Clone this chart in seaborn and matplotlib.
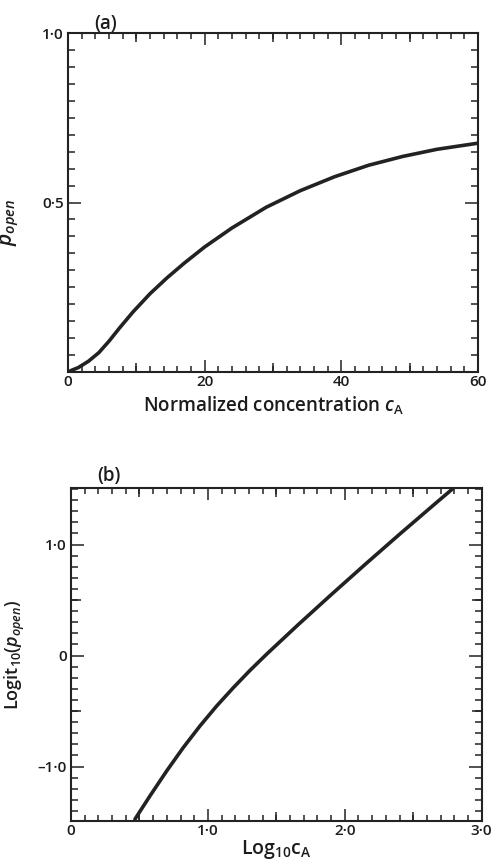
import numpy as np
import pandas as pd
import matplotlib
matplotlib.use("Agg")
import matplotlib.pyplot as plt
from matplotlib.ticker import MultipleLocator, FixedLocator, FuncFormatter
import seaborn as sns

# ---- data ----
conc_a = [0, 0.5, 1.5, 3, 4.5, 6, 7.5, 9.5, 12, 14.5, 17, 20, 24, 29, 34, 39, 44, 49, 54, 60]
popen_a = [0, 0.005, 0.013, 0.032, 0.057, 0.091, 0.129, 0.177, 0.231, 0.278, 0.321,
           0.369, 0.425, 0.486, 0.535, 0.576, 0.610, 0.636, 0.657, 0.675]

logc_b = [0.467, 0.577, 0.699, 0.82, 0.942, 1.064, 1.186, 1.307, 1.43, 1.66,
          1.9, 2.15, 2.4, 2.65, 2.79]
logit_b = [-1.474, -1.264, -1.039, -0.829, -0.634, -0.454, -0.289, -0.134, 0.014, 0.279,
           0.548, 0.823, 1.093, 1.358, 1.505]

xticks_a = [0, 20, 40, 60]
yticks_a = [0.5, 1.0]
xticks_b = [0, 1.0, 2.0, 3.0]
yticks_b = [-1.0, 0, 1.0]

df_a = pd.DataFrame({"c": conc_a, "p": popen_a})
df_b = pd.DataFrame({"x": logc_b, "y": logit_b})

sns.set_style("ticks")
plt.rcParams['font.family'] = ['Open Sans', 'DejaVu Sans']
plt.rcParams['font.weight'] = 'semibold'
plt.rcParams['mathtext.fontset'] = 'custom'
plt.rcParams['mathtext.rm'] = 'Open Sans:semibold'
plt.rcParams['mathtext.it'] = 'Open Sans:italic:semibold'
plt.rcParams['mathtext.bf'] = 'Open Sans:bold'

INK = '#222222'
TXT = '#1c1c1c'
PX = 0.72  # points per pixel at dpi 100


def dotfmt(v, pos=None):
    if abs(v) < 1e-9:
        return "0"
    if abs(v) >= 10:
        return f"{int(round(v))}"
    s = f"{abs(v):.1f}".replace(".", "\u00b7")
    return ("\u2013" if v < 0 else "") + s


fig = plt.figure(figsize=(4.99, 8.64), dpi=100)
ax_a = fig.add_axes([0.1363, 0.5694, 0.8216, 0.3924])
ax_b = fig.add_axes([0.1423, 0.0498, 0.823, 0.3854])

sns.lineplot(data=df_a, x="c", y="p", ax=ax_a, color=INK, linewidth=2.6, sort=True)
sns.lineplot(data=df_b, x="x", y="y", ax=ax_b, color=INK, linewidth=2.6, sort=True)


def style(ax, xlim, ylim, xmaj, xmed, xminor, ymaj, ymed, yminor):
    ax.set_xlim(*xlim)
    ax.set_ylim(*ylim)
    for s in ax.spines.values():
        s.set_visible(True)
        s.set_linewidth(1.5)
        s.set_color(INK)
    ax.xaxis.set_major_locator(FixedLocator(xmaj))
    ax.xaxis.set_minor_locator(MultipleLocator(xminor))
    ax.yaxis.set_major_locator(FixedLocator(ymaj))
    ax.yaxis.set_minor_locator(MultipleLocator(yminor))
    ax.xaxis.set_major_formatter(FuncFormatter(dotfmt))
    ax.yaxis.set_major_formatter(FuncFormatter(dotfmt))
    ax.tick_params(axis='both', which='both', direction='in', top=True, right=True,
                   color=INK, width=1.1, labelcolor=TXT, labelsize=11)
    ax.tick_params(axis='x', which='major', length=12 * PX, pad=2)
    ax.tick_params(axis='x', which='minor', length=6 * PX)
    ax.tick_params(axis='y', which='major', length=13 * PX, pad=3)
    ax.tick_params(axis='y', which='minor', length=7 * PX)
    for lab in ax.get_xticklabels() + ax.get_yticklabels():
        lab.set_fontweight('semibold')
    # medium-length ticks
    for loc in ('bottom', 'top'):
        sec = ax.secondary_xaxis(loc)
        sec.set_xticks(xmed)
        sec.tick_params(direction='in', length=9 * PX, width=1.1, color=INK,
                        labelbottom=False, labeltop=False)
        for s in sec.spines.values():
            s.set_visible(False)
    if ymed:
        for loc in ('left', 'right'):
            sec = ax.secondary_yaxis(loc)
            sec.set_yticks(ymed)
            sec.tick_params(direction='in', length=10 * PX, width=1.1, color=INK,
                            labelleft=False, labelright=False)
            for s in sec.spines.values():
                s.set_visible(False)


style(ax_a, (0, 60), (0, 1.0), xticks_a, [10, 30, 50], 2, yticks_a, None, 0.05)
style(ax_b, (0, 3.0), (-1.49, 1.51), xticks_b, [0.5, 1.5, 2.5], 0.1, yticks_b, [-0.5, 0.5], 0.1)

ax_a.set_xlabel(r"Normalized concentration $c_{\mathrm{A}}$", fontsize=13.5, color=TXT,
                labelpad=4, fontweight='semibold')
ax_a.set_ylabel(r"$p_{open}$", fontsize=15, color=TXT)
ax_a.yaxis.set_label_coords(-0.115, 0.44)

ax_b.set_xlabel(r"Log$_{10}$c$_{\mathrm{A}}$", fontsize=14, color=TXT, labelpad=0,
                fontweight='semibold')
ax_b.set_ylabel(r"Logit$_{10}$($p_{open}$)", fontsize=13, color=TXT, fontweight='semibold')
ax_b.yaxis.set_label_coords(-0.108, 0.5)

fig.text(106 / 499, 1 - 24.5 / 864, "(a)", ha='center', va='center', fontsize=13.5,
         color=TXT, fontweight='semibold')
fig.text(108.5 / 499, 1 - 475.5 / 864, "(b)", ha='center', va='center', fontsize=13.5,
         color=TXT, fontweight='semibold')

fig.savefig("out.png", dpi=100, facecolor='white')
